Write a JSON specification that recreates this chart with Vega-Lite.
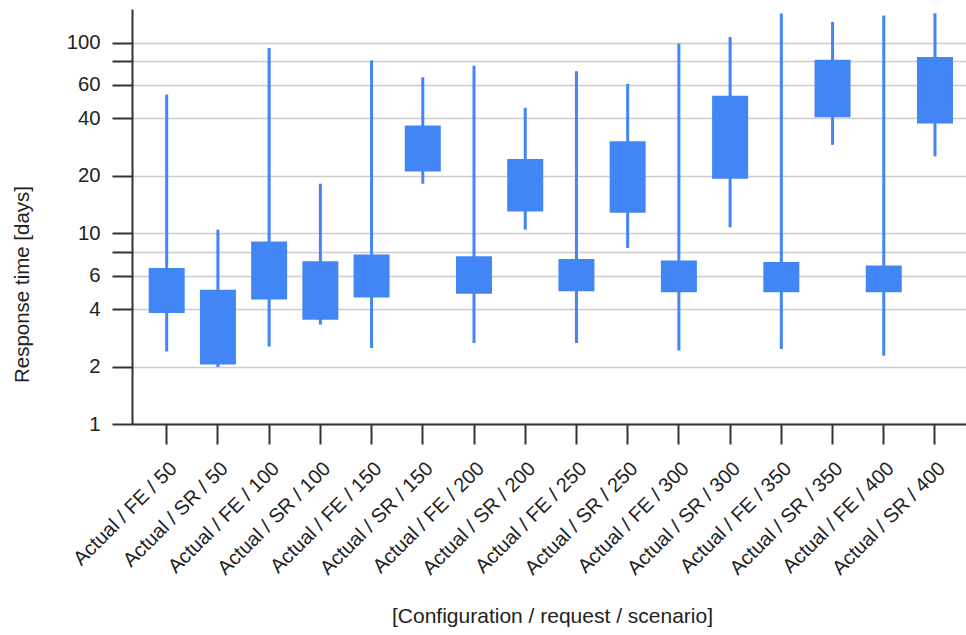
{
  "$schema": "https://vega.github.io/schema/vega-lite/v6.json",
  "width": 834,
  "height": 415,
  "autosize": {"type": "none"},
  "padding": {"left": 132, "top": 9, "right": 0, "bottom": 211},
  "background": "white",
  "config": {
    "view": {"stroke": null},
    "font": "Liberation Sans",
    "axis": {"labelFont": "Liberation Sans", "titleFont": "Liberation Sans", "labelColor": "#222222", "titleColor": "#222222", "titleFontWeight": "normal"}
  },
  "data": {
    "values": [
      {"label": "Actual / FE / 50", "lo": 2.40, "q1": 3.82, "q3": 6.58, "hi": 53.4},
      {"label": "Actual / SR / 50", "lo": 1.99, "q1": 2.05, "q3": 5.06, "hi": 10.45},
      {"label": "Actual / FE / 100", "lo": 2.55, "q1": 4.49, "q3": 9.07, "hi": 93.8},
      {"label": "Actual / SR / 100", "lo": 3.32, "q1": 3.52, "q3": 7.13, "hi": 18.2},
      {"label": "Actual / FE / 150", "lo": 2.50, "q1": 4.61, "q3": 7.73, "hi": 80.5},
      {"label": "Actual / SR / 150", "lo": 18.2, "q1": 21.1, "q3": 36.8, "hi": 65.8},
      {"label": "Actual / FE / 200", "lo": 2.66, "q1": 4.82, "q3": 7.57, "hi": 75.7},
      {"label": "Actual / SR / 200", "lo": 10.45, "q1": 13.0, "q3": 24.5, "hi": 45.5},
      {"label": "Actual / FE / 250", "lo": 2.66, "q1": 4.96, "q3": 7.34, "hi": 70.7},
      {"label": "Actual / SR / 250", "lo": 8.38, "q1": 12.8, "q3": 30.4, "hi": 60.7},
      {"label": "Actual / FE / 300", "lo": 2.43, "q1": 4.90, "q3": 7.19, "hi": 98.8},
      {"label": "Actual / SR / 300", "lo": 10.75, "q1": 19.3, "q3": 52.7, "hi": 107},
      {"label": "Actual / FE / 350", "lo": 2.47, "q1": 4.90, "q3": 7.07, "hi": 142},
      {"label": "Actual / SR / 350", "lo": 29.1, "q1": 40.6, "q3": 81.2, "hi": 128.4},
      {"label": "Actual / FE / 400", "lo": 2.28, "q1": 4.90, "q3": 6.77, "hi": 138.6},
      {"label": "Actual / SR / 400", "lo": 25.3, "q1": 37.6, "q3": 84.1, "hi": 142.5}
    ]
  },
  "encoding": {
    "x": {
      "field": "label",
      "type": "nominal",
      "sort": null,
      "scale": {"type": "band", "paddingInner": 0, "paddingOuter": 0.1415, "align": 0.627},
      "axis": {
        "title": "[Configuration / request / scenario]",
        "titleFontSize": 21,
        "titleX": 420,
        "titleY": 192,
        "titleAlign": "center",
        "titleBaseline": "middle",
        "labelAngle": -45,
        "labelAlign": "right",
        "labelBaseline": "top",
        "labelFontSize": 20,
        "labelPadding": 14,
        "tickSize": 20,
        "tickColor": "#333333",
        "tickWidth": 2,
        "domainColor": "#333333",
        "domainWidth": 2,
        "grid": false
      }
    }
  },
  "layer": [
    {
      "mark": {"type": "rule", "color": "#4285F4", "strokeWidth": 3},
      "encoding": {
        "y": {
          "field": "lo",
          "type": "quantitative",
          "scale": {"type": "log", "domain": [1, 150], "nice": false},
          "axis": {
            "title": "Response time [days]",
            "titleFontSize": 20.5,
            "titleX": -110,
            "titleY": 275,
            "titleAngle": -90,
            "titleAlign": "center",
            "titleBaseline": "middle",
            "values": [1, 2, 4, 6, 8, 10, 20, 40, 60, 80, 100],
            "labelExpr": "datum.value == 8 || datum.value == 80 ? '' : '' + datum.value",
            "labelFontSize": 20.3,
            "labelPadding": 12,
            "tickSize": 20,
            "tickColor": "#333333",
            "tickWidth": 2,
            "domainColor": "#333333",
            "domainWidth": 2,
            "grid": true,
            "gridColor": "#cccccc",
            "gridWidth": 1.5
          }
        },
        "y2": {"field": "hi"}
      }
    },
    {
      "mark": {"type": "bar", "color": "#4285F4", "size": 36},
      "encoding": {
        "y": {"field": "q1", "type": "quantitative"},
        "y2": {"field": "q3"}
      }
    }
  ]
}
